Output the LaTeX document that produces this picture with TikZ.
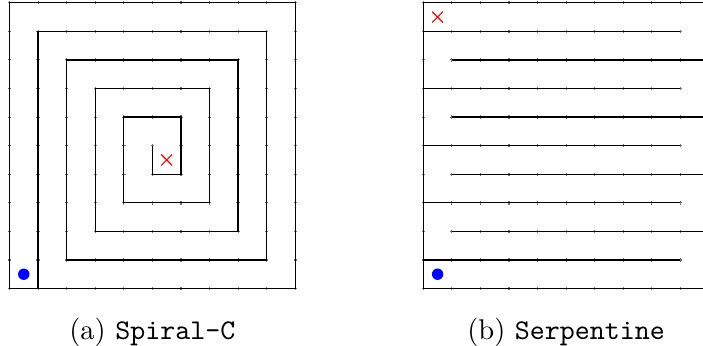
\documentclass[tikz,border=0pt]{standalone}
\begin{document}
\begin{tikzpicture}[
  wall/.style={black, line width=0.45pt},
  tick/.style={black!55, line width=0.4pt},
  goal/.style={red, line width=0.4pt},
  start/.style={blue, fill=blue},
  caption/.style={anchor=base, inner sep=0pt, font=\normalsize}
]
\useasboundingbox (0,0) rectangle (246.05pt,120.75pt);

% ---------- (a) Spiral-C ----------
\begin{scope}[shift={(3.325pt,19.775pt)}, x=10pt, y=10pt]
  \foreach \i in {0,...,10} {
    \foreach \j in {0,...,10} {
      \draw[tick] (\i-0.06,\j) -- (\i+0.06,\j);
      \draw[tick] (\i,\j-0.06) -- (\i,\j+0.06);
    }
  }
  \draw[wall] (0,0) rectangle (10,10);
  \draw[wall] (1,0) -- (1,9) -- (9,9) -- (9,1) -- (2,1) -- (2,8) -- (8,8)
    -- (8,2) -- (3,2) -- (3,7) -- (7,7) -- (7,3) -- (4,3) -- (4,6)
    -- (6,6) -- (6,4) -- (5,4) -- (5,5);
  \draw[goal] (5.31,4.31) -- (5.69,4.69) (5.31,4.69) -- (5.69,4.31);
  \fill[start] (0.5,0.5) circle (0.2);
  \node[caption] (capa) at (5,-1.78) {(a) \texttt{Spiral-C}};
\end{scope}

% ---------- (b) Serpentine ----------
\begin{scope}[shift={(148.16pt,19.775pt)}, x=10pt, y=10pt]
  \foreach \i in {0,...,10} {
    \foreach \j in {0,...,10} {
      \draw[tick] (\i-0.06,\j) -- (\i+0.06,\j);
      \draw[tick] (\i,\j-0.06) -- (\i,\j+0.06);
    }
  }
  \draw[wall] (0,0) rectangle (10,10);
  \foreach \y in {1,3,5,7,9} { \draw[wall] (0,\y) -- (9,\y); }
  \foreach \y in {2,4,6,8} { \draw[wall] (1,\y) -- (10,\y); }
  \draw[goal] (0.31,9.31) -- (0.69,9.69) (0.31,9.69) -- (0.69,9.31);
  \fill[start] (0.5,0.5) circle (0.2);
  \node[caption] (capb) at (5,-1.78) {(b) \texttt{Serpentine}};
\end{scope}
\end{tikzpicture}
\end{document}
